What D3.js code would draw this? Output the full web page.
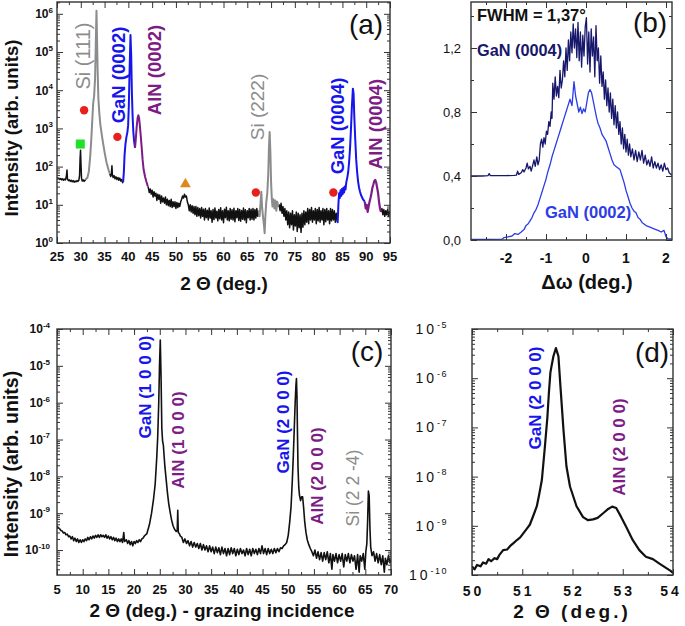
<!DOCTYPE html>
<html><head><meta charset="utf-8">
<script src="https://cdn.jsdelivr.net/npm/d3@7"></script>
<style>
body{margin:0;background:#fff}
svg{display:block}
text{font-family:"Liberation Sans",Arial,Helvetica,sans-serif}
</style>
</head><body>
<svg id="chart" width="685" height="626"></svg>
<script>
// ===================== DATA =====================
// Panel (a): 2Theta (deg) vs intensity (arb. units), log scale
const aBlack1 = [[25.0,52],[25.2,48],[25.4,50],[25.6,46],[25.8,49],[26.0,45],[26.2,48],[26.4,44],[26.6,47],[26.8,45],[27.0,60],[27.1,82],[27.2,48],[27.4,43],[27.6,45],[27.8,41],[28.0,44],[28.2,40],[28.4,43],[28.6,39],[28.8,42],[29.0,40],[29.2,43],[29.4,41],[29.6,44],[29.75,60],[29.85,160],[29.95,270],[30.05,110],[30.15,50],[30.3,42],[30.5,45],[30.7,41],[30.9,44],[31.0,46]];
const aSi111 = [[31.0,46],[31.4,52],[31.7,75],[32.0,200],[32.2,500],[32.4,1500],[32.6,4500],[32.8,7000],[33.0,2e4],[33.15,1.5e5],[33.3,1.2e6],[33.42,2e5],[33.55,3e4],[33.7,6000],[33.9,2500],[34.1,1300],[34.4,700],[34.7,400],[35.0,240],[35.4,130],[35.8,85],[36.1,65]];
const aBlack2 = [[36.1,65],[36.3,55],[36.45,70],[36.55,105],[36.65,60],[36.8,52],[37.0,58],[37.2,48],[37.4,54],[37.6,46],[37.8,52],[38.0,44],[38.2,50],[38.4,42],[38.6,46],[38.8,38],[38.9,40]];
const aGaN0002 = [[38.9,40],[39.05,70],[39.2,200],[39.4,400],[39.6,600],[39.8,800],[39.95,1200],[40.1,4000],[40.25,3e4],[40.45,2.8e5],[40.6,8e4],[40.75,8000],[40.9,2000],[41.05,800],[41.2,480],[41.4,310]];
const aAlN0002 = [[41.4,310],[41.55,500],[41.75,1100],[41.95,1900],[42.1,2200],[42.25,1900],[42.4,1250],[42.6,650],[42.8,320],[43.0,150],[43.2,85],[43.5,55],[43.8,40],[44.1,30]];
const aBlack3 = [[44.1,30],[44.2,28],[44.4,21],[44.6,26],[44.8,19],[45.0,24],[45.2,16],[45.4,22],[45.6,17],[45.8,20],[46.0,13],[46.2,19],[46.4,14],[46.6,18],[46.8,11],[47.0,17],[47.2,12],[47.4,15],[47.6,11],[47.8,16],[48.0,10],[48.2,14],[48.4,9.5],[48.6,13],[48.8,9],[49.0,14],[49.2,8.5],[49.4,12],[49.6,9],[49.8,12],[50.0,8],[50.2,11.5],[50.4,8.5],[50.6,11],[50.8,9],[51.0,12],[51.2,14],[51.4,17],[51.6,15],[51.8,19],[52.0,16],[52.2,17],[52.4,12],[52.6,10],[52.8,7],[53.0,10],[53.2,6.5],[53.4,9.5],[53.6,6],[53.8,9],[54.0,5.5],[54.2,9],[54.4,5],[54.6,8.5],[54.8,5.2],[55.0,8],[55.2,4.5],[55.4,8.5],[55.6,5],[55.8,7.6],[56.0,4],[56.2,8],[56.4,4.6],[56.6,7.2],[56.8,4],[57.0,8.3],[57.2,4.5],[57.4,7],[57.6,3.5],[57.8,7.5],[58.0,4.1],[58.2,8.2],[58.4,4.5],[58.6,6.8],[58.8,3.8],[59.0,7.5],[59.2,4.3],[59.4,8.4],[59.6,4],[59.8,7],[60.0,3.4],[60.2,7.6],[60.4,4.6],[60.6,8.6],[60.8,4],[61.0,7],[61.2,3.8],[61.4,8],[61.6,4.2],[61.8,7.4],[62.0,4],[62.2,8.1],[62.4,3.6],[62.6,7],[62.8,4.6],[63.0,8],[63.2,3.9],[63.4,7.5],[63.6,3.7],[63.8,7.1],[64.0,4.2],[64.2,8.2],[64.4,4],[64.6,7.4],[64.8,3.4],[65.0,7],[65.2,4.6],[65.4,8],[65.6,4],[65.8,7.6],[66.0,4.2],[66.2,8],[66.4,4],[66.6,7.5],[66.8,4.5],[67.0,8],[67.2,5],[67.4,7]];
const aSi222 = [[67.4,7],[67.6,5],[67.8,12],[67.95,22],[68.1,9],[68.3,5],[68.5,3],[68.65,1.8],[68.8,5],[69.0,12],[69.2,20],[69.4,60],[69.55,300],[69.7,800],[69.85,250],[70.0,40],[70.15,15],[70.3,9],[70.5,14],[70.7,8],[70.9,13],[71.1,7],[71.3,12],[71.5,9]];
const aBlack4 = [[71.5,9],[71.7,10],[71.9,7],[72.1,11],[72.3,6],[72.5,9],[72.7,5],[72.9,8],[73.1,4],[73.3,7],[73.5,3],[73.7,6.5],[73.9,2.5],[74.1,6],[74.3,3],[74.5,7],[74.7,2.2],[74.9,5.5],[75.1,2.8],[75.3,6.5],[75.5,2],[75.7,6],[75.9,2.5],[76.1,5.5],[76.3,1.9],[76.5,6],[76.7,2.6],[76.9,7],[77.1,3],[77.3,6.5],[77.5,3.5],[77.7,8],[77.9,3.2],[78.1,7.5],[78.3,4],[78.5,8.5],[78.7,3.5],[78.9,7],[79.1,4],[79.3,8],[79.5,3.2],[79.7,7.5],[79.9,3.8],[80.1,8.5],[80.3,3.5],[80.5,7],[80.7,4],[80.9,8],[81.1,3],[81.3,7.5],[81.5,3.6],[81.7,8],[81.9,4],[82.1,7],[82.3,3.2],[82.5,8],[82.7,3.8],[82.9,7.5],[83.1,4],[83.3,7],[83.5,3.5],[83.7,6],[83.8,4]];
const aGaN0004 = [[83.8,4],[84.0,3.5],[84.15,10],[84.3,20],[84.45,15],[84.6,24],[84.75,17],[84.9,26],[85.05,19],[85.2,28],[85.35,21],[85.5,30],[85.65,25],[85.8,38],[86.0,50],[86.2,70],[86.4,130],[86.6,300],[86.8,1000],[87.0,4000],[87.2,1.1e4],[87.35,8000],[87.5,2000],[87.7,500],[87.9,150],[88.1,70],[88.3,40],[88.5,28],[88.7,22],[88.9,18],[89.1,16],[89.3,14],[89.5,13],[89.7,12]];
const aAlN0004 = [[89.7,12],[89.9,8],[90.1,10],[90.3,6.5],[90.5,9],[90.7,12],[90.9,15],[91.1,20],[91.3,28],[91.5,34],[91.7,42],[91.9,45],[92.1,38],[92.3,28],[92.5,20],[92.7,12],[92.9,8],[93.1,6.5]];
const aBlack5 = [[93.1,6.5],[93.3,8],[93.5,5.5],[93.7,7.5],[93.9,5],[94.1,7],[94.3,5.5],[94.5,7.5],[94.7,5],[94.9,6.5],[95.0,6]];
const aRedDots = [[30.7,3000],[37.7,600],[66.8,21],[83.1,21]];
const aGreenSquares = [[29.9,390]];
const aOrangeTriangles = [[52.0,35]];
const aXTicks = [25,30,35,40,45,50,55,60,65,70,75,80,85,90,95];
const aYExponents = [0,1,2,3,4,5,6];

// Panel (b): rocking curves, delta omega (deg) vs normalised intensity
const bGaN0004 = [[-2.875,0.400],[-2.6,0.400],[-2.45,0.402],[-2.42,0.415],[-2.39,0.402],[-2.0,0.402],[-1.8,0.404],[-1.74,0.405],[-1.71,0.43],[-1.68,0.41],[-1.62,0.42],[-1.58,0.44],[-1.55,0.425],[-1.5,0.45],[-1.47,0.48],[-1.44,0.445],[-1.4,0.46],[-1.37,0.43],[-1.33,0.47],[-1.3,0.5],[-1.27,0.46],[-1.23,0.52],[-1.2,0.47],[-1.17,0.5],[-1.14,0.6],[-1.11,0.63],[-1.08,0.58],[-1.05,0.64],[-1.02,0.6],[-0.99,0.68],[-0.96,0.66],[-0.93,0.74],[-0.9,0.71],[-0.87,0.8],[-0.85,0.76],[-0.83,0.98],[-0.8,0.88],[-0.77,1.02],[-0.74,0.9],[-0.71,0.96],[-0.68,0.89],[-0.65,1.06],[-0.62,0.95],[-0.59,1.0],[-0.56,1.12],[-0.53,1.02],[-0.5,1.2],[-0.47,1.06],[-0.44,1.25],[-0.41,1.12],[-0.38,1.3],[-0.35,1.17],[-0.32,1.35],[-0.29,1.2],[-0.26,1.32],[-0.23,1.14],[-0.2,1.36],[-0.17,1.12],[-0.14,1.3],[-0.11,1.08],[-0.08,1.28],[-0.05,1.15],[-0.02,1.33],[0.01,1.39],[0.04,1.1],[0.07,1.3],[0.1,1.05],[0.13,1.32],[0.16,1.15],[0.19,1.27],[0.22,1.02],[0.25,1.34],[0.28,1.12],[0.31,1.2],[0.34,0.98],[0.37,1.15],[0.4,0.96],[0.43,1.05],[0.46,0.88],[0.49,1.0],[0.52,0.84],[0.55,0.95],[0.58,0.8],[0.61,0.92],[0.64,0.76],[0.67,0.88],[0.7,0.72],[0.73,0.84],[0.76,0.7],[0.79,0.8],[0.82,0.66],[0.85,0.74],[0.88,0.6],[0.91,0.7],[0.94,0.57],[0.97,0.66],[1.0,0.55],[1.03,0.63],[1.06,0.53],[1.09,0.6],[1.12,0.52],[1.16,0.57],[1.2,0.5],[1.24,0.56],[1.28,0.49],[1.32,0.55],[1.36,0.5],[1.4,0.56],[1.44,0.48],[1.48,0.53],[1.52,0.47],[1.56,0.5],[1.6,0.46],[1.64,0.52],[1.68,0.45],[1.72,0.49],[1.76,0.45],[1.8,0.48],[1.84,0.44],[1.88,0.47],[1.92,0.43],[1.96,0.48],[2.0,0.44],[2.04,0.45],[2.08,0.42],[2.12,0.41],[2.15,0.405]];
const bGaN0002 = [[-2.875,0.003],[-2.5,0.004],[-2.1,0.005],[-2.05,0.015],[-1.95,0.02],[-1.85,0.025],[-1.78,0.04],[-1.7,0.035],[-1.62,0.05],[-1.55,0.065],[-1.5,0.09],[-1.45,0.1],[-1.4,0.12],[-1.35,0.14],[-1.3,0.17],[-1.25,0.19],[-1.2,0.22],[-1.15,0.26],[-1.1,0.3],[-1.05,0.34],[-1.0,0.38],[-0.95,0.43],[-0.9,0.47],[-0.85,0.52],[-0.8,0.56],[-0.75,0.6],[-0.7,0.64],[-0.65,0.68],[-0.6,0.72],[-0.55,0.76],[-0.5,0.8],[-0.45,0.84],[-0.4,0.88],[-0.35,0.84],[-0.3,0.99],[-0.26,0.9],[-0.22,0.85],[-0.18,0.8],[-0.14,0.83],[-0.1,0.79],[-0.06,0.82],[-0.02,0.8],[0.02,0.86],[0.06,0.92],[0.1,0.94],[0.14,0.92],[0.18,0.87],[0.22,0.82],[0.26,0.77],[0.3,0.73],[0.35,0.7],[0.4,0.66],[0.45,0.64],[0.5,0.62],[0.55,0.58],[0.6,0.54],[0.65,0.5],[0.7,0.47],[0.75,0.46],[0.8,0.45],[0.85,0.44],[0.9,0.4],[0.95,0.36],[1.0,0.31],[1.05,0.27],[1.1,0.23],[1.15,0.2],[1.2,0.18],[1.25,0.17],[1.3,0.14],[1.35,0.13],[1.4,0.11],[1.5,0.09],[1.6,0.08],[1.7,0.07],[1.8,0.06],[1.88,0.05],[1.95,0.06],[2.0,0.02],[2.05,0.008],[2.15,0.005]];
const bXTicks = [-2,-1,0,1,2];
const bYTicks = [0,0.4,0.8,1.2];
const bYTickLabels = ["0,0","0,4","0,8","1,2"];

// Panel (c): grazing incidence scan
const cScan = [[5.0,4.5e-10],[5.25,4.0e-10],[5.5,3.8e-10],[5.75,3.4e-10],[6.0,3.3e-10],[6.25,2.9e-10],[6.5,3.0e-10],[6.75,2.6e-10],[7.0,2.7e-10],[7.25,2.3e-10],[7.5,2.4e-10],[7.75,2.0e-10],[8.0,2.3e-10],[8.25,1.8e-10],[8.5,2.1e-10],[8.75,1.7e-10],[9.0,2.0e-10],[9.25,1.6e-10],[9.5,1.9e-10],[9.75,1.6e-10],[10.0,1.9e-10],[10.25,1.7e-10],[10.5,2.0e-10],[10.75,1.8e-10],[11.0,2.2e-10],[11.25,1.9e-10],[11.5,2.3e-10],[11.75,2.0e-10],[12.0,2.4e-10],[12.25,2.1e-10],[12.5,2.5e-10],[12.75,2.2e-10],[13.0,2.6e-10],[13.25,2.2e-10],[13.5,2.6e-10],[13.75,2.3e-10],[14.0,2.5e-10],[14.25,2.2e-10],[14.5,2.6e-10],[14.75,2.1e-10],[15.0,2.4e-10],[15.25,2.0e-10],[15.5,2.3e-10],[15.75,1.9e-10],[16.0,2.2e-10],[16.25,1.8e-10],[16.5,2.1e-10],[16.75,1.7e-10],[17.0,2.0e-10],[17.25,1.7e-10],[17.5,2.0e-10],[17.75,1.6e-10],[18.0,3.0e-10],[18.15,1.7e-10],[18.5,1.9e-10],[18.75,1.5e-10],[19.0,1.8e-10],[19.25,1.4e-10],[19.5,1.7e-10],[19.75,1.3e-10],[20.0,1.7e-10],[20.25,1.5e-10],[20.5,1.8e-10],[20.75,1.6e-10],[21.0,1.9e-10],[21.25,1.7e-10],[21.5,2.0e-10],[21.75,2.1e-10],[22.0,2.4e-10],[22.5,2.8e-10],[23.0,5e-10],[23.4,1e-9],[23.8,2.5e-9],[24.1,6e-9],[24.4,3e-8],[24.6,1.2e-7],[24.8,1e-6],[24.95,1e-5],[25.1,5e-5],[25.25,5e-6],[25.4,2e-7],[25.55,9e-8],[25.7,7e-8],[25.85,3.5e-8],[26.0,1.8e-8],[26.25,8e-9],[26.5,3.5e-9],[26.75,1.8e-9],[27.0,1.1e-9],[27.3,6.5e-10],[27.6,4.5e-10],[27.9,3.6e-10],[28.2,3.2e-10],[28.4,3.4e-10],[28.5,1.2e-9],[28.6,3e-10],[28.8,2.8e-10],[29.0,2.4e-10],[29.3,2.2e-10],[29.6,1.6e-10],[29.9,2.0e-10],[30.2,1.5e-10],[30.5,1.8e-10],[30.8,1.3e-10],[31.1,1.7e-10],[31.4,1.2e-10],[31.7,1.6e-10],[32.0,1.2e-10],[32.3,1.5e-10],[32.6,1.1e-10],[32.9,1.5e-10],[33.2,1.0e-10],[33.5,1.4e-10],[33.8,1.0e-10],[34.1,1.3e-10],[34.4,0.9e-10],[34.7,1.3e-10],[35.0,0.9e-10],[35.3,1.2e-10],[35.6,0.8e-10],[35.9,1.2e-10],[36.2,0.85e-10],[36.5,1.15e-10],[36.8,0.75e-10],[37.1,1.2e-10],[37.4,0.8e-10],[37.7,1.1e-10],[38.0,0.7e-10],[38.3,1.1e-10],[38.6,0.75e-10],[38.9,1.15e-10],[39.2,0.8e-10],[39.5,1.1e-10],[39.8,0.7e-10],[40.1,1.05e-10],[40.4,0.75e-10],[40.7,1.1e-10],[41.0,0.8e-10],[41.3,1.0e-10],[41.6,0.7e-10],[41.9,1.1e-10],[42.2,0.75e-10],[42.5,1.05e-10],[42.8,0.7e-10],[43.1,1.1e-10],[43.4,0.8e-10],[43.7,1.05e-10],[44.0,0.75e-10],[44.3,1.1e-10],[44.6,0.8e-10],[44.9,1.3e-10],[45.2,0.8e-10],[45.5,1.1e-10],[45.8,0.75e-10],[46.1,1.1e-10],[46.4,0.8e-10],[46.7,1.05e-10],[47.0,0.8e-10],[47.3,1.1e-10],[47.6,0.85e-10],[47.9,1.1e-10],[48.2,0.9e-10],[48.5,1.15e-10],[48.8,1.1e-10],[49.1,1.3e-10],[49.4,1.4e-10],[49.7,1.6e-10],[50.0,2.5e-10],[50.3,6e-10],[50.55,1.5e-9],[50.8,8e-9],[51.0,4e-8],[51.2,2.5e-7],[51.35,1e-6],[51.5,3e-6],[51.6,4.5e-6],[51.7,1.5e-6],[51.8,1.5e-7],[51.9,1.8e-8],[52.05,5e-9],[52.2,3e-9],[52.4,2.2e-9],[52.6,2.8e-9],[52.8,2.8e-9],[53.0,1.4e-9],[53.2,6e-10],[53.45,3e-10],[53.7,1.9e-10],[54.0,1.4e-10],[54.3,1.1e-10],[54.6,0.9e-10],[54.9,0.7e-10],[55.2,1.0e-10],[55.5,0.6e-10],[55.8,0.9e-10],[56.1,0.55e-10],[56.4,0.85e-10],[56.7,0.5e-10],[57.0,0.85e-10],[57.3,0.55e-10],[57.6,0.9e-10],[57.9,0.45e-10],[58.2,0.8e-10],[58.5,0.3e-10],[58.7,0.75e-10],[59.0,0.5e-10],[59.3,0.8e-10],[59.6,0.45e-10],[59.9,0.75e-10],[60.2,0.5e-10],[60.5,0.8e-10],[60.8,0.35e-10],[61.1,0.75e-10],[61.4,0.5e-10],[61.7,0.8e-10],[62.0,0.45e-10],[62.3,0.75e-10],[62.6,0.5e-10],[62.9,0.7e-10],[63.2,0.3e-10],[63.5,0.75e-10],[63.8,0.25e-10],[64.0,0.7e-10],[64.3,0.5e-10],[64.6,0.8e-10],[64.9,0.3e-10],[65.1,0.9e-10],[65.3,1.5e-10],[65.45,6e-10],[65.6,4e-9],[65.75,3e-9],[65.9,4e-10],[66.05,1.2e-10],[66.3,0.7e-10],[66.6,0.9e-10],[66.9,0.5e-10],[67.2,0.8e-10],[67.5,0.45e-10],[67.8,0.75e-10],[68.1,0.4e-10],[68.4,0.7e-10],[68.7,0.25e-10],[68.9,0.6e-10],[69.2,0.4e-10],[69.5,0.7e-10],[69.8,0.45e-10],[70.0,0.55e-10]];
const cXTicks = [5,10,15,20,25,30,35,40,45,50,55,60,65,70];
const cYExponents = [-10,-9,-8,-7,-6,-5,-4];

// Panel (d): zoom on GaN/AlN (2 0 0 0)
const dScan = [[50.0,1.5e-10],[50.05,1.3e-10],[50.1,1.6e-10],[50.17,1.5e-10],[50.22,1.8e-10],[50.28,1.7e-10],[50.33,2.1e-10],[50.38,1.9e-10],[50.45,2.2e-10],[50.5,2.1e-10],[50.55,2.6e-10],[50.62,3.2e-10],[50.7,3.3e-10],[50.76,3.9e-10],[50.82,4.4e-10],[50.9,5.2e-10],[50.96,5.8e-10],[51.02,7e-10],[51.1,9e-10],[51.15,1.05e-9],[51.22,1.6e-9],[51.29,2.5e-9],[51.34,4.5e-9],[51.39,8.5e-9],[51.45,4e-8],[51.5,1.6e-7],[51.53,5e-7],[51.56,1.3e-6],[51.58,1.7e-6],[51.62,2.8e-6],[51.67,4.1e-6],[51.72,2.8e-6],[51.76,6.8e-7],[51.82,9e-8],[51.88,1.6e-8],[51.95,6.3e-9],[52.08,2.5e-9],[52.21,1.5e-9],[52.31,1.3e-9],[52.41,1.35e-9],[52.5,1.45e-9],[52.61,1.8e-9],[52.71,2.2e-9],[52.79,2.45e-9],[52.87,2.3e-9],[52.97,1.5e-9],[53.07,9.5e-10],[53.2,5.1e-10],[53.33,3.2e-10],[53.46,2.35e-10],[53.6,2.1e-10],[53.73,1.7e-10],[53.86,1.4e-10],[53.96,1.2e-10],[54.0,1.1e-10]];
const dXTicks = [50,51,52,53,54];
const dYExponents = [-10,-9,-8,-7,-6,-5];

// ===================== DRAWING =====================
const svg = d3.select('#chart');
const AX = '#333';
const BLUE = '#1616ec', PURPLE = '#7d1c85', GRAY = '#8c8c8c';

const PA = {l:57, r:390, t:2, b:243};
const PB = {l:471, r:672, t:2, b:240};
const PC = {l:57, r:391, t:329, b:575};
const PD = {l:472, r:673, t:329, b:575};

const xA = d3.scaleLinear().domain([25,95]).range([PA.l,PA.r]);
const yA = d3.scaleLog().domain([1,2.04e6]).range([PA.b,PA.t]);
const xB = d3.scaleLinear().domain([-2.875,2.15]).range([PB.l,PB.r]);
const yB = d3.scaleLinear().domain([0,1.4875]).range([PB.b,PB.t]);
const xC = d3.scaleLinear().domain([5,70]).range([PC.l,PC.r]);
const yC = d3.scaleLog().domain([2.1e-11,1e-4]).range([PC.b,PC.t]);
const xD = d3.scaleLinear().domain([50,54]).range([PD.l,PD.r]);
const yD = d3.scaleLog().domain([1e-10,1e-5]).range([PD.b,PD.t]);

function logTicks(sc){
  const [lo,hi] = sc.domain(); const major=[], minor=[];
  for(let k=Math.floor(Math.log10(lo)); k<=Math.ceil(Math.log10(hi)); k++){
    const p = Math.pow(10,k);
    if(p>=lo*0.999 && p<=hi*1.001) major.push(p);
    for(let m=2;m<10;m++){const v=m*p; if(v>lo && v<hi) minor.push(v);}
  }
  return {major,minor};
}
function linMinor(sc, step){
  const [a,b]=sc.domain(); const out=[];
  for(let v=Math.ceil(a/step)*step; v<=b+1e-9; v+=step) out.push(+v.toFixed(6));
  return out;
}

function frame(P, x, y, xMaj, xMin, yMaj, yMin){
  const g = svg.append('g');
  const ax = (fn, sc, vals, len, tr) => g.append('g').attr('transform', tr)
    .call(fn(sc).tickValues(vals).tickSize(-len).tickSizeOuter(0).tickFormat(''))
    .call(s => { s.select('.domain').remove(); s.selectAll('text').remove(); });
  [[xMaj,6],[xMin,3]].forEach(([v,l]) => {
    ax(d3.axisBottom, x, v, l, `translate(0,${P.b})`);
    ax(d3.axisTop, x, v, l, `translate(0,${P.t})`);
  });
  [[yMaj,6],[yMin,3]].forEach(([v,l]) => {
    ax(d3.axisLeft, y, v, l, `translate(${P.l},0)`);
    ax(d3.axisRight, y, v, l, `translate(${P.r},0)`);
  });
  g.selectAll('.tick line').attr('stroke',AX).attr('stroke-width',1);
  g.append('rect').attr('x',P.l).attr('y',P.t).attr('width',P.r-P.l).attr('height',P.b-P.t)
    .attr('fill','none').attr('stroke',AX).attr('stroke-width',1.4);
}

let clipId = 0;
function clipFor(P){
  const id = 'clip'+(clipId++);
  svg.append('clipPath').attr('id',id).append('rect')
    .attr('x',P.l).attr('y',P.t).attr('width',P.r-P.l).attr('height',P.b-P.t);
  return svg.append('g').attr('clip-path',`url(#${id})`);
}
function drawLine(g, data, x, y, color, w){
  g.append('path').datum(data).attr('fill','none').attr('stroke',color)
    .attr('stroke-width',w).attr('stroke-linejoin','round')
    .attr('d', d3.line().x(d=>x(d[0])).y(d=>y(d[1])));
}
function rotLabel(text, cx, cy, color, size, bold){
  svg.append('text').attr('transform',`translate(${cx+0.36*size},${cy}) rotate(-90)`)
    .attr('text-anchor','middle').attr('font-size',size).attr('fill',color)
    .attr('font-weight',bold?'bold':'normal').text(text);
}
function text(t, x, y, size, opts={}){
  const el = svg.append('text').attr('x',x).attr('y',y).attr('font-size',size)
    .attr('text-anchor',opts.anchor||'start').attr('fill',opts.color||'#111')
    .attr('font-weight',opts.bold?'bold':'normal');
  if(opts.ls) el.attr('letter-spacing',opts.ls);
  el.text(t); return el;
}
function powLabel(xr, yc, exp, bigSize, supSize, bold, ls){
  const el = svg.append('text').attr('x',xr).attr('y',yc+bigSize*0.36)
    .attr('text-anchor','end').attr('fill','#111').attr('font-weight',bold?'bold':'normal')
    .attr('font-size',bigSize);
  const t1 = el.append('tspan').text('10');
  if(ls) t1.attr('letter-spacing',ls);
  const t2 = el.append('tspan').attr('dy',-bigSize*0.45).attr('font-size',supSize).text(exp);
  if(ls) t2.attr('letter-spacing',ls*0.5);
}

// ---------- Panel (a) ----------
{
  const g = clipFor(PA);
  [aBlack1,aBlack2,aBlack3,aBlack4,aBlack5].forEach(s=>drawLine(g,s,xA,yA,'#111',1.5));
  drawLine(g,aSi111,xA,yA,GRAY,2);
  drawLine(g,aSi222,xA,yA,GRAY,2);
  drawLine(g,aGaN0002,xA,yA,BLUE,2);
  drawLine(g,aGaN0004,xA,yA,BLUE,2);
  drawLine(g,aAlN0002,xA,yA,PURPLE,2);
  drawLine(g,aAlN0004,xA,yA,PURPLE,2.2);
  const lt = logTicks(yA);
  frame(PA,xA,yA,aXTicks,linMinor(xA,2.5).filter(v=>v%5!==0),lt.major,lt.minor);
  aRedDots.forEach(d=>svg.append('circle').attr('cx',xA(d[0])).attr('cy',yA(d[1])).attr('r',4.2).attr('fill','#e8201c'));
  aGreenSquares.forEach(d=>svg.append('rect').attr('x',xA(d[0])-4.5).attr('y',yA(d[1])-4.5).attr('width',9).attr('height',9).attr('fill','#22e028'));
  aOrangeTriangles.forEach(d=>svg.append('path').attr('transform',`translate(${xA(d[0])},${yA(d[1])})`)
     .attr('d',d3.symbol().type(d3.symbolTriangle).size(50)()).attr('fill','#e0871c'));
  aXTicks.forEach(v=>text(String(v), xA(v), 261, 13, {anchor:'middle', bold:true}));
  aYExponents.forEach(e=>powLabel(53, yA(Math.pow(10,e)), String(e), 12, 8, true));
  rotLabel('Si (111)', 83, 56, GRAY, 20, false);
  rotLabel('GaN (0002)', 118, 75, BLUE, 18.5, true);
  rotLabel('AlN (0002)', 154, 70, PURPLE, 18.5, true);
  rotLabel('Si (222)', 257, 107, GRAY, 19, false);
  rotLabel('GaN (0004)', 337, 126, BLUE, 18.5, true);
  rotLabel('AlN (0004)', 375, 124, PURPLE, 18.5, true);
  text('(a)', 366, 34, 28, {anchor:'middle'});
  text('2 Θ (deg.)', 224, 290, 19, {anchor:'middle', bold:true});
  svg.append('text').attr('transform','translate(17.5,128) rotate(-90)').attr('text-anchor','middle')
    .attr('font-size',18.5).attr('font-weight','bold').attr('fill','#111').text('Intensity (arb. units)');
}

// ---------- Panel (b) ----------
{
  const g = clipFor(PB);
  drawLine(g,bGaN0002,xB,yB,'#2b3de6',1.3);
  drawLine(g,bGaN0004,xB,yB,'#17176b',1.3);
  frame(PB,xB,yB,bXTicks,linMinor(xB,0.5).filter(v=>Math.abs(v%1)>0.1),bYTicks,[0.2,0.6,1.0,1.4]);
  bXTicks.forEach(v=>text(String(v), xB(v), 263, 14, {anchor:'middle', bold:true}));
  bYTicks.forEach((v,i)=>text(bYTickLabels[i], 461, yB(v)+4.6, 13, {anchor:'end'}));
  text('FWHM = 1,37°', 477, 21, 16.5, {bold:true});
  text('(b)', 650, 32, 28, {anchor:'middle'});
  text('GaN (0004)', 477, 56, 16.3, {bold:true, color:'#17176b'});
  text('GaN (0002)', 545, 218, 16.5, {bold:true, color:'#2b3de6'});
  text('Δω (deg.)', 587, 289, 20, {anchor:'middle', bold:true});
}

// ---------- Panel (c) ----------
{
  const g = clipFor(PC);
  drawLine(g,cScan,xC,yC,'#111',1.6);
  const lt = logTicks(yC);
  frame(PC,xC,yC,cXTicks,linMinor(xC,2.5).filter(v=>v%5!==0),lt.major,lt.minor);
  cXTicks.forEach(v=>text(String(v), xC(v), 594, 13, {anchor:'middle', bold:true}));
  cYExponents.forEach(e=>powLabel(50, yC(Math.pow(10,e)), String(e), 12, 8, true));
  rotLabel('GaN (1 0 0 0)', 145, 387, BLUE, 17, true);
  rotLabel('AlN (1 0 0 0)', 178, 440, PURPLE, 17, true);
  rotLabel('GaN (2 0 0 0)', 283, 422, BLUE, 17, true);
  rotLabel('AlN (2 0 0 0)', 317, 476, PURPLE, 17, true);
  rotLabel('Si (2 2 -4)', 353, 488, GRAY, 17.5, false);
  text('(c)', 367, 361, 28, {anchor:'middle'});
  text('2 Θ (deg.) - grazing incidence', 222, 617, 19, {anchor:'middle', bold:true});
  svg.append('text').attr('transform','translate(18,464) rotate(-90)').attr('text-anchor','middle')
    .attr('font-size',19.5).attr('font-weight','bold').attr('fill','#111').text('Intensity (arb. units)');
}

// ---------- Panel (d) ----------
{
  const g = clipFor(PD);
  drawLine(g,dScan,xD,yD,'#111',2.2);
  const lt = logTicks(yD);
  frame(PD,xD,yD,dXTicks,[50.5,51.5,52.5,53.5],lt.major,lt.minor);
  dXTicks.forEach(v=>text(String(v), Math.min(xD(v)+1.5, 671), 596, 14, {anchor:'middle', bold:true, ls:3}));
  dYExponents.forEach(e=>powLabel(448, yD(Math.pow(10,e)), String(e), 14, 9, false, 3));
  rotLabel('GaN (2 0 0 0)', 535, 398, BLUE, 17, true);
  rotLabel('AlN (2 0 0 0)', 619, 447, PURPLE, 17, true);
  text('(d)', 652, 362, 28, {anchor:'middle'});
  text('2 Θ (deg.)', 572, 618, 19, {anchor:'middle', bold:true, ls:3});
}
</script>
</body></html>
